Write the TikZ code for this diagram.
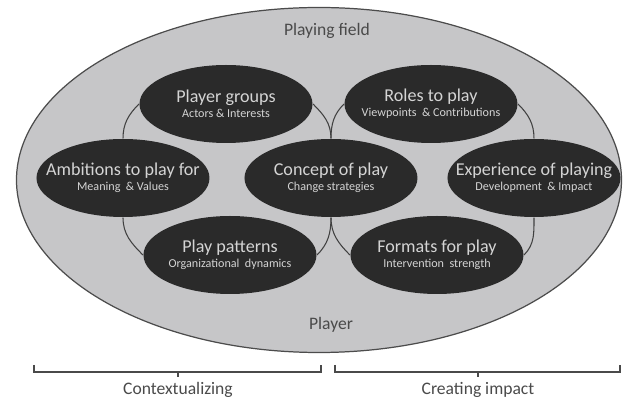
\documentclass[tikz,border=0pt]{standalone}
\usepackage{fontspec}
\setmainfont{Carlito}
\usepackage{xcolor}
\usepackage{tikz}
\usetikzlibrary{shapes.geometric}
\usetikzlibrary{positioning}

\definecolor{fieldgray}{HTML}{C6C6C8}
\definecolor{playdark}{HTML}{2A2A2A}
\definecolor{playtext}{HTML}{D4D4D4}
\definecolor{labelgray}{HTML}{4A4A4A}
\newcommand{\titlesize}{\fontsize{10.3}{12}\selectfont}
\newcommand{\subsize}{\fontsize{6.9}{8.5}\selectfont}

\begin{document}
\begin{tikzpicture}[node distance=2cm, on grid, semithick]
  \tikzstyle{play}=[ellipse, fill=playdark, text=playtext, minimum width=3.46cm, minimum height=1.56cm, inner xsep=-24pt, inner ysep=0pt, align=center, font=\subsize]
  \tikzstyle{link}=[draw=black!75, line width=0.6pt]
  \tikzstyle{bracket}=[draw=labelgray, line width=0.7pt]
  \tikzstyle{caption}=[text=labelgray, font=\fontsize{10}{12}\selectfont]
  \useasboundingbox (-6.62,-4.44) rectangle (5.96,3.56);

  % the field and its two labels
  \node[ellipse, draw=black!70, fill=fieldgray, line width=0.7pt, minimum width=12.1cm, minimum height=6.9cm] (field) at (-0.24,-0.04) {};
  \node[caption] (fieldtop) at (-0.08,2.95) {Playing field};
  \node[caption] (fieldbot) at (0,-2.94) {Player};

  % seven play elements
  \node[play] (C) at (0,0) {{\titlesize Concept of play}\\Change strategies};
  \node[play] (G) [above left=1.48cm and 2.1cm of C] {{\titlesize Player groups}\\Actors \& Interests};
  \node[play] (R) [above right=1.48cm and 2.0cm of C] {{\titlesize Roles to play}\\Viewpoints \ \& Contributions};
  \node[play] (A) [left=4.16cm of C] {{\titlesize Ambitions to play for}\\Meaning \ \& Values};
  \node[play] (E) [right=4.06cm of C] {{\titlesize Experience of playing}\\Development \ \& Impact};
  \node[play] (P) [below left=1.54cm and 2.02cm of C] {{\titlesize Play patterns}\\Organizational \ dynamics};
  \node[play] (F) [below right=1.54cm and 2.12cm of C] {{\titlesize Formats for play}\\Intervention \ strength};

  % thin links between them
  \foreach \from/\to/\ang in {A.north/G.west/-135, C.north/G.east/-45, C.north/R.west/-135, E.north/R.east/-45}{
    \draw[link] (\from) to[out=90, in=\ang] (\to);
  }
  \foreach \from/\to/\ang in {A.south/P.west/135, C.south/P.east/45, C.south/F.west/135, E.south/F.east/45}{
    \draw[link] (\from) to[out=-90, in=\ang] (\to);
  }

  % brackets underneath
  \node[caption] (ctx) at (-3.06,-4.24) {Contextualizing};
  \node[caption] (imp) at (2.94,-4.24) {Creating impact};
  \draw[bracket] (-5.94,-3.74) -- (-5.94,-3.88) -- (-0.2,-3.88) -- (-0.2,-3.74);
  \draw[bracket] (-3.06,-3.88) -- (-3.06,-3.98);
  \draw[bracket] (0.08,-3.74) -- (0.08,-3.88) -- (5.78,-3.88) -- (5.78,-3.74);
  \draw[bracket] (2.94,-3.88) -- (2.94,-3.98);
\end{tikzpicture}
\end{document}
